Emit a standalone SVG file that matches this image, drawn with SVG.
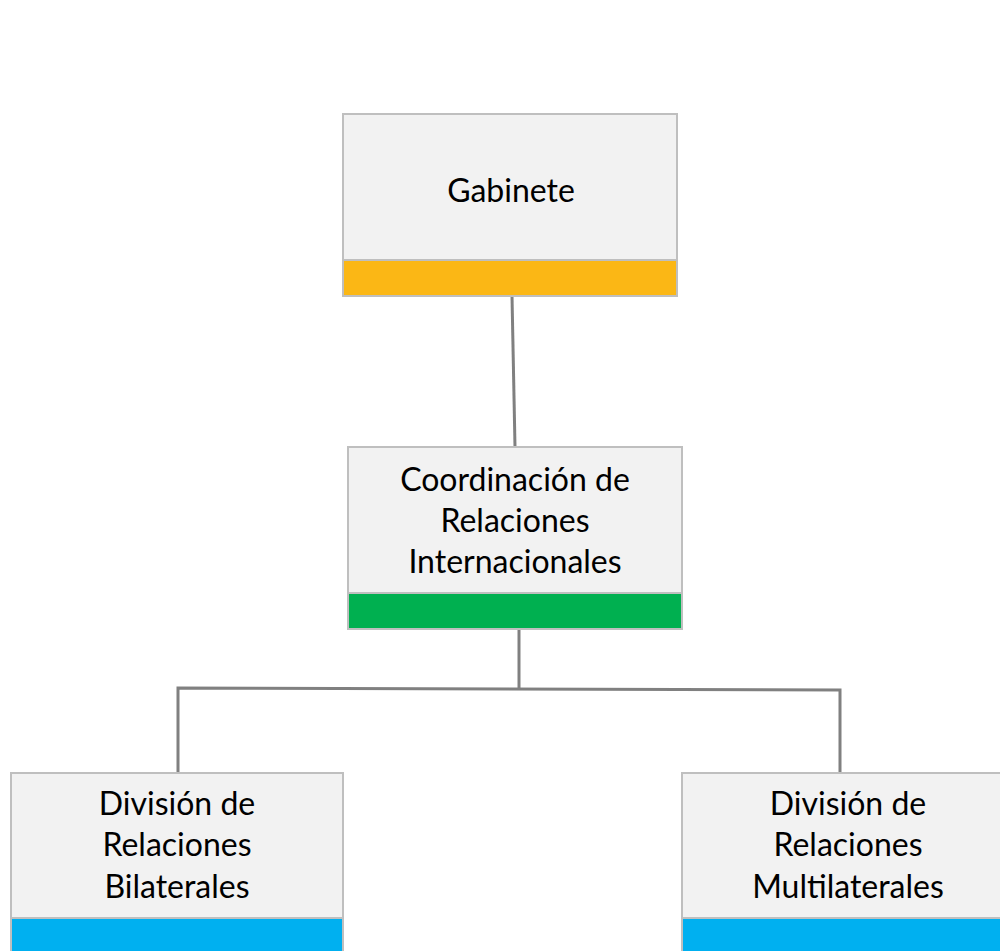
<svg xmlns="http://www.w3.org/2000/svg" width="1000" height="951" viewBox="0 0 1000 951">
<style>
.box{fill:#F2F2F2;stroke:#BFBFBF;stroke-width:2}
.band{stroke:#BFBFBF;stroke-width:2}
.t{font-family:"Lato","Open Sans","Liberation Sans",sans-serif;font-size:32px;fill:#000;text-anchor:middle}
.c{fill:none;stroke:#808080;stroke-width:3}
</style>
<rect width="1000" height="951" fill="#fff"/>
<g id="connectors">
<path class="c" d="M512,296 L515,447"/>
<path class="c" d="M519,629 L519,688"/>
<path class="c" d="M178,772 L178,688 L840,690 L840,772"/>
</g>
<g id="gabinete">
<rect class="box" x="343" y="114" width="334" height="182"/>
<rect class="band" x="343" y="260" width="334" height="36" fill="#FBB715"/>
<text class="t" x="511" y="202">Gabinete</text>
</g>
<g id="coordinacion">
<rect class="box" x="348" y="447" width="334" height="182"/>
<rect class="band" x="348" y="593" width="334" height="36" fill="#00B050"/>
<text class="t" x="515" y="491">Coordinación de</text>
<text class="t" x="515" y="532">Relaciones</text>
<text class="t" x="515" y="573">Internacionales</text>
</g>
<g id="bilaterales">
<rect class="box" x="11" y="773" width="332" height="190"/>
<rect class="band" x="11" y="918" width="332" height="45" fill="#00B0F0"/>
<text class="t" x="177" y="815">División de</text>
<text class="t" x="177" y="856">Relaciones</text>
<text class="t" x="177" y="898">Bilaterales</text>
</g>
<g id="multilaterales">
<rect class="box" x="682" y="773" width="332" height="190"/>
<rect class="band" x="682" y="918" width="332" height="45" fill="#00B0F0"/>
<text class="t" x="848" y="815">División de</text>
<text class="t" x="848" y="856">Relaciones</text>
<text class="t" x="848" y="898">Multilaterales</text>
</g>
</svg>
